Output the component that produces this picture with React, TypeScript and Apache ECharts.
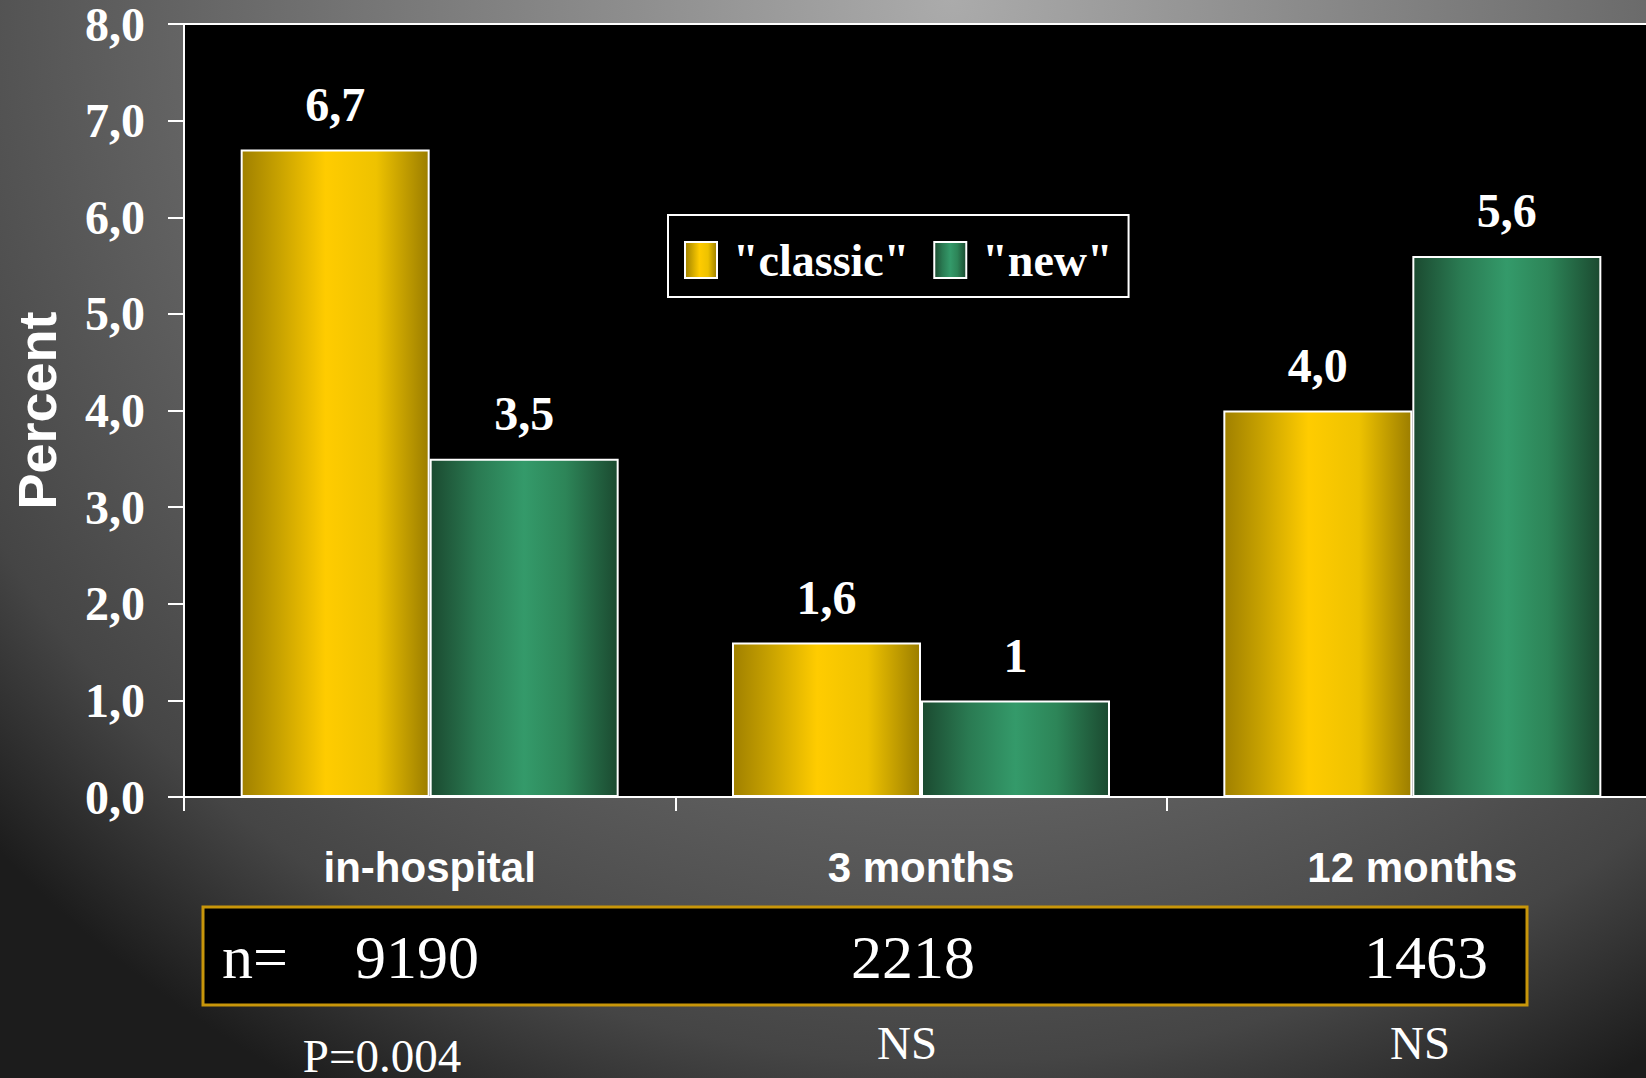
import React, { useEffect, useRef } from "react";
import * as echarts from "echarts";

const categories = ["in-hospital", "3 months", "12 months"];
const seriesNames = ['"classic"', '"new"'];
const classicValues = [6.7, 1.6, 4.0];
const newValues = [3.5, 1.0, 5.6];
const classicLabels = ["6,7", "1,6", "4,0"];
const newLabels = ["3,5", "1", "5,6"];
const nLabel = "n=";
const nValues = ["9190", "2218", "1463"];
const pValues = ["P=0.004", "NS", "NS"];
const yTicks = [0, 1, 2, 3, 4, 5, 6, 7, 8];

const SERIF = "'Liberation Serif', 'Times New Roman', serif";
const SANS = "'Liberation Sans', Arial, sans-serif";

const gold = new echarts.graphic.LinearGradient(0, 0, 1, 0, [
  { offset: 0, color: "#a08000" },
  { offset: 0.2, color: "#c8a200" },
  { offset: 0.45, color: "#ffcc00" },
  { offset: 0.72, color: "#eec200" },
  { offset: 1, color: "#9c7e00" },
]);
const green = new echarts.graphic.LinearGradient(0, 0, 1, 0, [
  { offset: 0, color: "#1b4a30" },
  { offset: 0.25, color: "#2a7a52" },
  { offset: 0.5, color: "#349a6a" },
  { offset: 0.72, color: "#2d8558" },
  { offset: 1, color: "#1b4a30" },
]);

export default function App() {
  const ref = useRef<HTMLDivElement>(null);
  useEffect(() => {
    document.body.style.margin = "0";
    const chart = echarts.init(ref.current!, null, { renderer: "svg" });
    const nX = [417, 913, 1426];
    const pX = [382, 907, 1420];
    const pY = [1056, 1043, 1043];
    const graphics: any[] = [
      {
        type: "rect",
        shape: { x: 203, y: 907, width: 1324, height: 98 },
        style: { fill: "#000", stroke: "#c8960a", lineWidth: 3 },
        z: 10,
      },
      {
        type: "text",
        x: 222,
        y: 957,
        style: { text: nLabel, fill: "#fff", font: `62px ${SERIF}`, align: "left", verticalAlign: "middle" },
        z: 11,
      },
      ...nValues.map((t, i) => ({
        type: "text",
        x: nX[i],
        y: 957,
        style: { text: t, fill: "#fff", font: `62px ${SERIF}`, align: "center", verticalAlign: "middle" },
        z: 11,
      })),
      ...pValues.map((t, i) => ({
        type: "text",
        x: pX[i],
        y: pY[i],
        style: {
          text: t,
          fill: "#fff",
          font: `47px ${SERIF}`,
          lineHeight: 40,
          align: "center",
          verticalAlign: "middle",
        },
        z: 11,
      })),
    ];
    chart.setOption({
      animation: false,
      backgroundColor: "transparent",
      grid: {
        left: 184,
        top: 24,
        width: 1474,
        height: 773,
        show: true,
        backgroundColor: "#000",
        borderColor: "#fff",
        borderWidth: 2,
        containLabel: false,
        outerBoundsMode: "none",
      },
      legend: {
        data: seriesNames,
        left: 668,
        top: 215,
        orient: "horizontal",
        backgroundColor: "#000",
        borderColor: "#fff",
        borderWidth: 2,
        borderRadius: 0,
        padding: [22, 16, 14, 16],
        itemWidth: 32,
        itemHeight: 36,
        itemGap: 24,
        icon: "rect",
        selectedMode: false,
        textStyle: {
          color: "#fff",
          fontFamily: SERIF,
          fontWeight: "bold",
          fontSize: 46,
          lineHeight: 40,
          padding: [0, 0, 0, 11],
        },
      },
      xAxis: {
        type: "category",
        data: categories,
        axisLine: { lineStyle: { color: "#fff", width: 2 } },
        axisTick: { show: true, length: 14, lineStyle: { color: "#fff", width: 2 } },
        axisLabel: {
          color: "#fff",
          fontFamily: SANS,
          fontWeight: "bold",
          fontSize: 42,
          margin: 49,
        },
        splitLine: { show: false },
      },
      yAxis: {
        type: "value",
        min: yTicks[0],
        max: yTicks[yTicks.length - 1],
        interval: 1,
        name: "Percent",
        nameLocation: "middle",
        nameRotate: 90,
        nameGap: 120,
        nameTextStyle: { color: "#fff", fontFamily: SANS, fontWeight: "bold", fontSize: 54 },
        axisLine: { show: true, lineStyle: { color: "#fff", width: 2 } },
        axisTick: { show: true, length: 16, lineStyle: { color: "#fff", width: 2 } },
        axisLabel: {
          color: "#fff",
          fontFamily: SERIF,
          fontWeight: "bold",
          fontSize: 48,
          lineHeight: 40,
          margin: 39,
          formatter: (v: number) => v.toFixed(1).replace(".", ","),
        },
        splitLine: { show: false },
      },
      series: [
        {
          name: seriesNames[0],
          type: "bar",
          data: classicValues,
          barWidth: 189,
          barGap: "0%",
          itemStyle: { color: gold, borderColor: "#fff", borderWidth: 2 },
          label: {
            show: true,
            position: "top",
            distance: 21,
            color: "#fff",
            fontFamily: SERIF,
            fontWeight: "bold",
            fontSize: 48,
            formatter: (p: any) => classicLabels[p.dataIndex],
          },
        },
        {
          name: seriesNames[1],
          type: "bar",
          data: newValues,
          barWidth: 189,
          barGap: "0%",
          itemStyle: { color: green, borderColor: "#fff", borderWidth: 2 },
          label: {
            show: true,
            position: "top",
            distance: 21,
            color: "#fff",
            fontFamily: SERIF,
            fontWeight: "bold",
            fontSize: 48,
            formatter: (p: any) => newLabels[p.dataIndex],
          },
        },
      ],
      graphic: graphics,
    });
    return () => chart.dispose();
  }, []);
  return (
    <div
      ref={ref}
      style={{
        width: 1646,
        height: 1078,
        background:
          "radial-gradient(ellipse 1300px 1250px at 950px 0px, #ababab 0%, #454545 85%, #1c1c1c 100%)",
      }}
    />
  );
}
